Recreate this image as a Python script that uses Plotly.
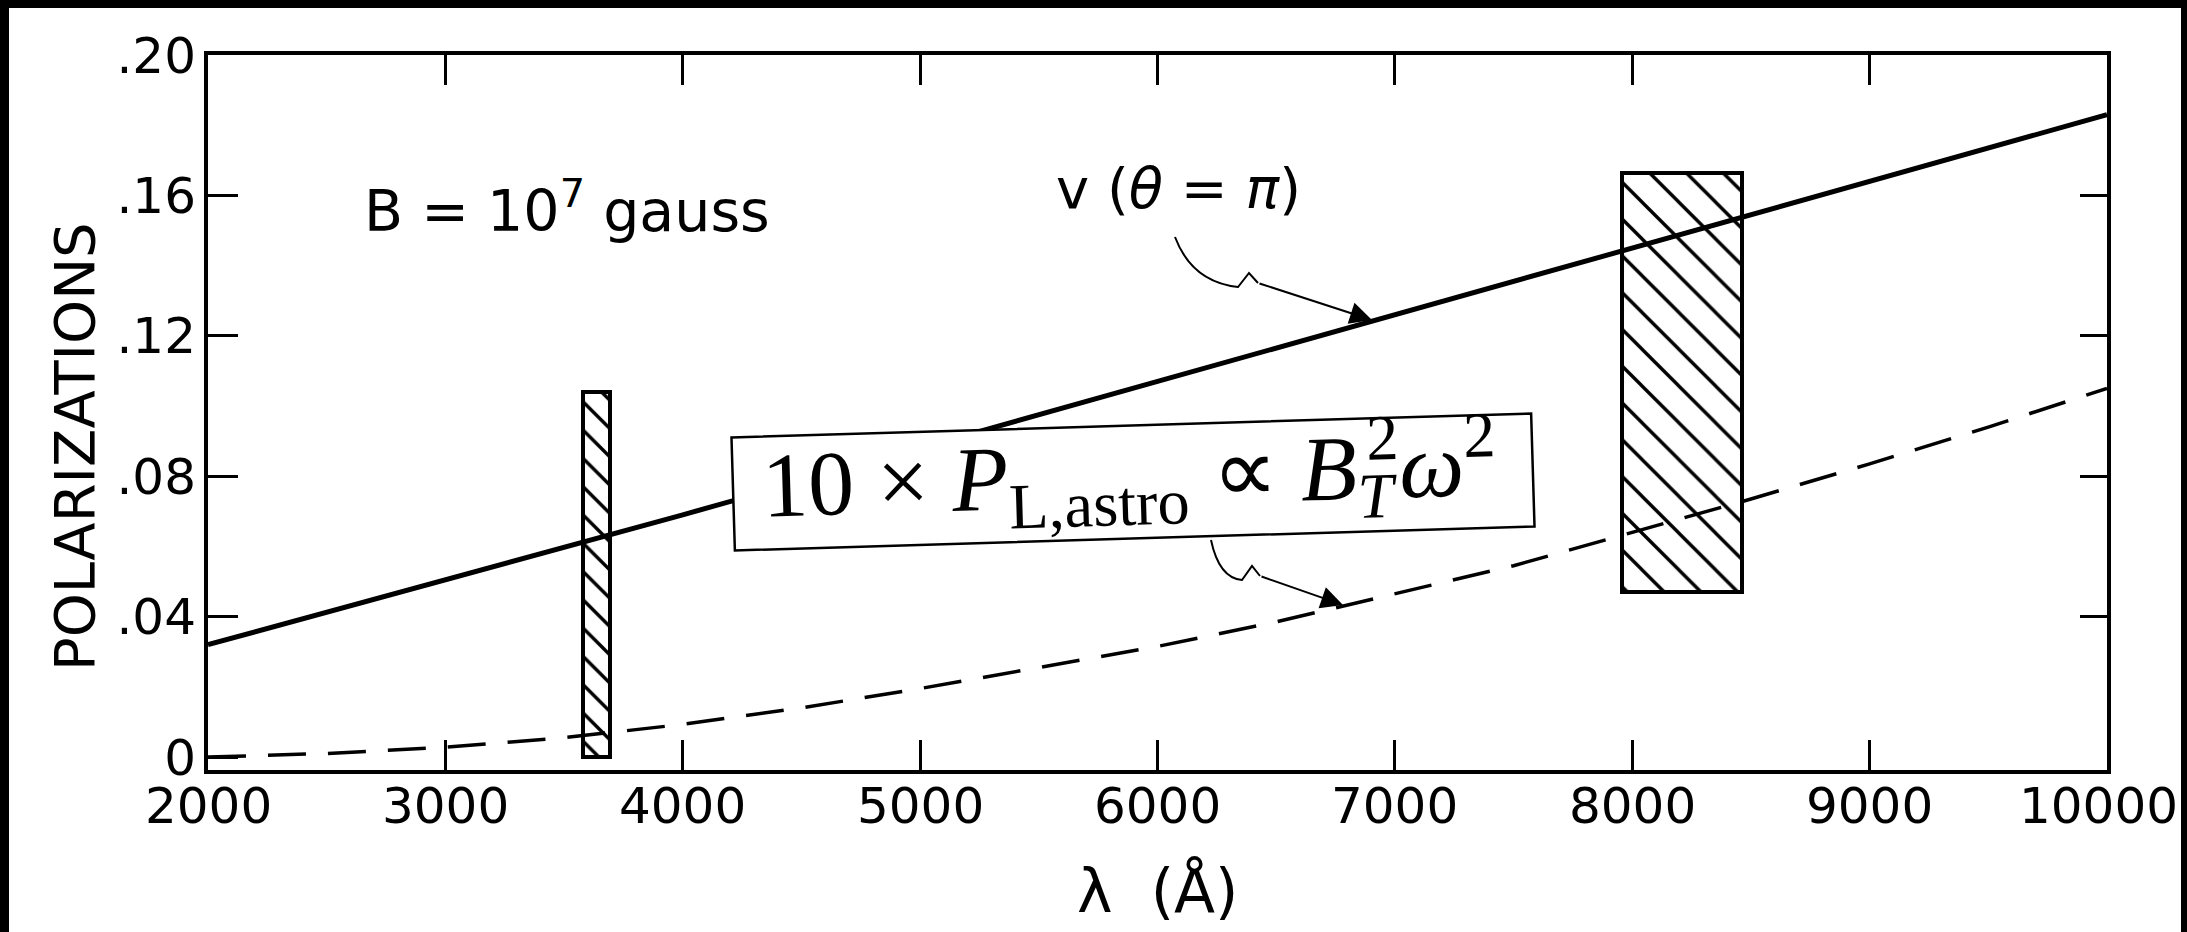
import math
import plotly.graph_objects as go

# ---- data ---------------------------------------------------------------
# circular polarization v(theta = pi) versus wavelength
lam_v = [2000, 3000, 4000, 5000, 6000, 7000, 8000, 9000, 10000]
pol_v = [0.032, 0.0505, 0.069, 0.088, 0.107, 0.126, 0.145, 0.164, 0.183]

# 10 x linear polarization (dashed curve)
lam_pl = [2000, 2500, 3000, 3500, 4000, 4500, 5000, 5500, 6000,
          6500, 7000, 7500, 8000, 8500, 9000, 9500, 10000]
pol_pl = [0.000, 0.0010, 0.0028, 0.0055, 0.0093, 0.0140, 0.0195, 0.0255, 0.0315,
          0.0385, 0.0465, 0.0545, 0.0640, 0.0735, 0.0835, 0.0940, 0.1050]

# observed ranges, drawn as hatched boxes
obs_lam_lo = [3580, 7955]
obs_lam_hi = [3693, 8461]
obs_pol_lo = [0.000, 0.047]
obs_pol_hi = [0.104, 0.1665]

x_tickvals = [2000, 3000, 4000, 5000, 6000, 7000, 8000, 9000, 10000]
x_ticktext = ["2000", "3000", "4000", "5000", "6000", "7000", "8000", "9000", "10000"]
y_tickvals = [0.0, 0.04, 0.08, 0.12, 0.16, 0.20]
y_ticktext = ["0", ".04", ".08", ".12", ".16", ".20"]
y_right_ticks = [0.04, 0.08, 0.12, 0.16]

# ---- page geometry (pixels) ---------------------------------------------
W, H = 2187, 932
PL, PR, PT, PB = 208, 2107, 55, 770
TICK_LABEL_Y = 806          # centre line of the x tick labels


def fx(px):
    return (px - PL) / (PR - PL)


def fy(py):
    return (PB - py) / (PB - PT)


LABEL_FONT = "DejaVu Sans"
MATH_FONT = "Liberation Serif"

fig = go.Figure()

# hatched observation boxes
hatch_size = [20, 26]
hatch_solid = [0.17, 0.13]
for lo, hi, plo, phi, hs, sol in zip(obs_lam_lo, obs_lam_hi, obs_pol_lo, obs_pol_hi,
                                     hatch_size, hatch_solid):
    fig.add_trace(go.Bar(
        x=[(lo + hi) / 2], y=[phi - plo], base=[plo], width=[hi - lo],
        marker=dict(color="white", line=dict(color="black", width=4),
                    pattern=dict(shape="\\", fgcolor="black", bgcolor="white",
                                 fgopacity=1, size=hs, solidity=sol,
                                 fillmode="overlay")),
        showlegend=False, hoverinfo="skip"))

fig.add_trace(go.Scatter(x=lam_v, y=pol_v, mode="lines",
                         line=dict(color="black", width=5),
                         showlegend=False, hoverinfo="skip"))
fig.add_trace(go.Scatter(x=lam_pl, y=pol_pl, mode="lines",
                         line=dict(color="black", width=3.5, dash="38px,22px"),
                         showlegend=False, hoverinfo="skip"))
# invisible trace carrying the right-hand tick marks
fig.add_trace(go.Scatter(x=[lam_v[0]], y=[pol_v[0]], yaxis="y2", mode="markers",
                         marker=dict(opacity=0), showlegend=False, hoverinfo="skip"))

yr = [-(PB - 757) / (757 - PT) * 0.20, 0.20]

fig.update_layout(
    width=W, height=H, autosize=False,
    margin=dict(l=PL, r=W - PR, t=PT, b=H - PB, pad=0),
    paper_bgcolor="white", plot_bgcolor="white",
    barmode="overlay", bargap=0,
    font=dict(family=LABEL_FONT, color="black", size=50),
    xaxis=dict(range=[2000, 10000], tickvals=x_tickvals, showticklabels=False,
               ticks="inside", ticklen=30, tickwidth=3, tickcolor="black",
               showline=True, linewidth=4, linecolor="black", mirror="ticks",
               showgrid=False, zeroline=False),
    yaxis=dict(range=yr, tickvals=y_tickvals, ticktext=y_ticktext,
               ticks="inside", ticklen=30, tickwidth=3, tickcolor="black",
               showline=True, linewidth=4, linecolor="black", mirror=True,
               showgrid=False, zeroline=False,
               tickfont=dict(family=LABEL_FONT, size=50), ticklabelstandoff=-2),
    yaxis2=dict(range=yr, overlaying="y", side="right", tickvals=y_right_ticks,
                ticks="inside", ticklen=27, tickwidth=3, tickcolor="black",
                showticklabels=False, showline=False, showgrid=False, zeroline=False),
)

ann = []
# x tick labels under the bottom axis (the last one is nudged in from the edge)
for i, (val, txt) in enumerate(zip(x_tickvals, x_ticktext)):
    ann.append(dict(text=txt, xref="x", yref="paper", x=val, y=fy(TICK_LABEL_Y),
                    xshift=-9 if i == len(x_tickvals) - 1 else 0,
                    xanchor="center", yanchor="middle", showarrow=False,
                    font=dict(family=LABEL_FONT, size=50)))
# axis titles
ann.append(dict(text="POLARIZATIONS", xref="paper", yref="paper",
                x=fx(74), y=fy(447), xanchor="center", yanchor="middle",
                textangle=-90, showarrow=False,
                font=dict(family=LABEL_FONT, size=56)))
ann.append(dict(text="λ  (Å)", xref="paper", yref="paper",
                x=fx(1158), y=fy(891), xanchor="center", yanchor="middle",
                showarrow=False, font=dict(family=LABEL_FONT, size=60)))
# curve labels
ann.append(dict(text="B = 10<sup>7</sup> gauss", xref="paper", yref="paper",
                x=fx(362), y=fy(207), xanchor="left", yanchor="middle",
                showarrow=False, font=dict(family=LABEL_FONT, size=57)))
ann.append(dict(text="v (<i>θ</i> = <i>π</i>)", xref="paper", yref="paper",
                x=fx(1178), y=fy(189), xanchor="center", yanchor="middle",
                showarrow=False, font=dict(family=LABEL_FONT, size=56)))

# boxed formula for the dashed curve: white frame + rotated text
BOX_C, BOX_W, BOX_H, BOX_ANG = (1133, 482), 800, 113, 1.72
ca, sa = math.cos(math.radians(BOX_ANG)), math.sin(math.radians(BOX_ANG))
corners = []
for dx, dy in [(-1, -1), (1, -1), (1, 1), (-1, 1)]:
    hx, hy = dx * BOX_W / 2, dy * BOX_H / 2
    corners.append((BOX_C[0] + hx * ca + hy * sa, BOX_C[1] - hx * sa + hy * ca))
box_path = "M " + " L ".join("{} {}".format(fx(cx), fy(cy)) for cx, cy in corners) + " Z"

ann.append(dict(
    text=("10 × <i>P</i><sub>L,astro</sub> ∝ <i>B</i>"
          "<sub><span style=\"letter-spacing:-0.4em\"><i>T</i></span></sub>"
          "<sup>2</sup><i>ω</i><sup>2</sup>"),
    xref="paper", yref="paper", x=fx(BOX_C[0] - 4), y=fy(BOX_C[1] - 8),
    xanchor="center", yanchor="middle",
    textangle=-BOX_ANG, showarrow=False,
    font=dict(family=MATH_FONT, size=92)))

# arrow heads (straight final segments of the pointer lines)
arrows = [((1258, 283), (1372, 320)), ((1260, 576), (1343, 605))]
for (sx, sy), (tx, ty) in arrows:
    ann.append(dict(text="", xref="paper", yref="paper", x=fx(tx), y=fy(ty),
                    ax=sx - tx, ay=sy - ty, showarrow=True, arrowhead=2,
                    arrowsize=2.2, arrowwidth=2, arrowcolor="black", standoff=0))
fig.update_layout(annotations=ann)

shapes = [dict(type="path", path=box_path, xref="paper", yref="paper",
               fillcolor="white", line=dict(color="black", width=2.5), layer="above")]

# curly tails of the pointer lines
tails = [
    [(1175, 237), (1192, 282), (1238, 287), (1249, 273), (1258, 283)],
    [(1211, 540), (1219, 578), (1242, 580), (1252, 566), (1260, 576)],
]
for p in tails:
    path = "M {} {} Q {} {} {} {} L {} {} L {} {}".format(
        fx(p[0][0]), fy(p[0][1]), fx(p[1][0]), fy(p[1][1]),
        fx(p[2][0]), fy(p[2][1]), fx(p[3][0]), fy(p[3][1]),
        fx(p[4][0]), fy(p[4][1]))
    shapes.append(dict(type="path", path=path, xref="paper", yref="paper",
                       line=dict(color="black", width=2)))

# dark frame of the scanned page
for x0, y0, x1, y1 in [(0, 0, 9, H), (0, 0, W, 8), (W - 6, 0, W, H)]:
    shapes.append(dict(type="rect", xref="paper", yref="paper",
                       x0=fx(x0), x1=fx(x1), y0=fy(y1), y1=fy(y0),
                       fillcolor="black", line=dict(width=0), layer="above"))
fig.update_layout(shapes=shapes)

fig.write_html("out.html")
